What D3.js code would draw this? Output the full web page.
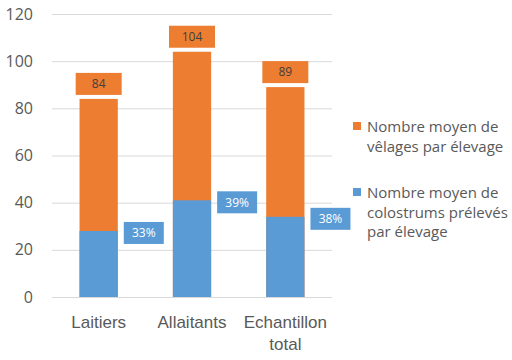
<!DOCTYPE html>
<html>
<head>
<meta charset="utf-8">
<script src="https://cdn.jsdelivr.net/npm/d3@7"></script>
<style>
  body { margin: 0; background: #fff; }
  svg { font-family: "Open Sans", sans-serif; }
</style>
</head>
<body>
<div id="chart"></div>
<script>
// data
const categories = ["Laitiers", "Allaitants", "Echantillon total"];
const velages = [84, 104, 89];
const colostrums = [28, 41, 34];
const pctLabels = ["33%", "39%", "38%"];
const yTicks = [0, 20, 40, 60, 80, 100, 120];
const seriesNames = [
  ["Nombre moyen de", "vêlages par élevage"],
  ["Nombre moyen de", "colostrums prélevés", "par élevage"]
];

const orange = "#ED7D31", blue = "#5B9BD5", textCol = "#595959";
const svgWidth = 512, svgHeight = 360;
const margin = { top: 14, right: 180, bottom: 63, left: 52 };
const width = svgWidth - margin.left - margin.right;
const height = svgHeight - margin.top - margin.bottom;

const svg = d3.select("#chart").append("svg")
  .attr("width", svgWidth)
  .attr("height", svgHeight);

const g = svg.append("g")
  .attr("transform", "translate(" + margin.left + "," + margin.top + ")");

const x = d3.scaleBand()
  .domain(categories)
  .range([0, width])
  .paddingInner(0.59)
  .paddingOuter(0.295);

const y = d3.scaleLinear()
  .domain([0, 120])
  .range([height, 0]);

// gridlines + y labels
const yAxis = g.append("g")
  .call(d3.axisLeft(y).tickValues(yTicks).tickSize(-width).tickPadding(19));
yAxis.select(".domain").remove();
yAxis.selectAll(".tick line").attr("stroke", "#d9d9d9");
yAxis.selectAll(".tick text")
  .attr("fill", textCol)
  .attr("font-size", 16)
  .attr("font-family", "Open Sans, sans-serif");

const rows = categories.map((c, i) => ({ cat: c, total: velages[i], colo: colostrums[i], pct: pctLabels[i] }));

// orange bars (total)
g.selectAll(".bar-v")
  .data(rows)
  .enter().append("rect")
  .attr("class", "bar-v")
  .attr("x", d => x(d.cat))
  .attr("y", d => y(d.total))
  .attr("width", x.bandwidth())
  .attr("height", d => height - y(d.total))
  .attr("fill", orange);

// blue bars
g.selectAll(".bar-c")
  .data(rows)
  .enter().append("rect")
  .attr("class", "bar-c")
  .attr("x", d => x(d.cat))
  .attr("y", d => y(d.colo))
  .attr("width", x.bandwidth())
  .attr("height", d => height - y(d.colo))
  .attr("fill", blue);

// orange labels above bars
const lblV = g.selectAll(".lbl-v")
  .data(rows)
  .enter().append("g")
  .attr("transform", d => "translate(" + (x(d.cat) + x.bandwidth() / 2) + "," + (y(d.total) - 15) + ")");
lblV.append("rect")
  .attr("x", -23).attr("y", -11)
  .attr("width", 46).attr("height", 22)
  .attr("fill", orange);
lblV.append("text")
  .attr("text-anchor", "middle")
  .attr("dy", "0.35em")
  .attr("font-size", 12)
  .attr("fill", "#404040")
  .text(d => d.total);

// blue percentage labels right of bars
const lblC = g.selectAll(".lbl-c")
  .data(rows)
  .enter().append("g")
  .attr("transform", d => "translate(" + (x(d.cat) + x.bandwidth() + 6) + "," + (y(d.colo) + 2) + ")");
lblC.append("rect")
  .attr("x", 0).attr("y", -11)
  .attr("width", 40).attr("height", 22)
  .attr("fill", blue);
lblC.append("text")
  .attr("x", 20)
  .attr("text-anchor", "middle")
  .attr("dy", "0.35em")
  .attr("font-size", 12)
  .attr("fill", "#fff")
  .text(d => d.pct);

// x labels
const xAxis = g.append("g")
  .attr("transform", "translate(0," + height + ")")
  .call(d3.axisBottom(x).tickSize(0).tickFormat(""));
xAxis.select(".domain").remove();
xAxis.selectAll(".tick").append("text")
  .attr("fill", textCol)
  .attr("font-size", 17)
  .attr("text-anchor", "middle")
  .selectAll("tspan")
  .data(d => d.split(" "))
  .enter().append("tspan")
  .attr("x", 0)
  .attr("y", (d, i) => 31 + i * 22)
  .text(d => d);

// legend
const legend = svg.append("g")
  .attr("font-size", 15)
  .attr("fill", textCol)
  .selectAll("g")
  .data([{ color: orange, lines: seriesNames[0] }, { color: blue, lines: seriesNames[1] }])
  .enter().append("g")
  .attr("transform", (d, i) => "translate(353," + (132 + i * 66) + ")");
legend.append("rect")
  .attr("y", -10)
  .attr("width", 8).attr("height", 8)
  .attr("fill", d => d.color);
legend.append("text")
  .attr("fill", textCol)
  .selectAll("tspan")
  .data(d => d.lines)
  .enter().append("tspan")
  .attr("x", 14)
  .attr("y", (d, i) => i * 19.5)
  .text(d => d);
</script>
</body>
</html>
